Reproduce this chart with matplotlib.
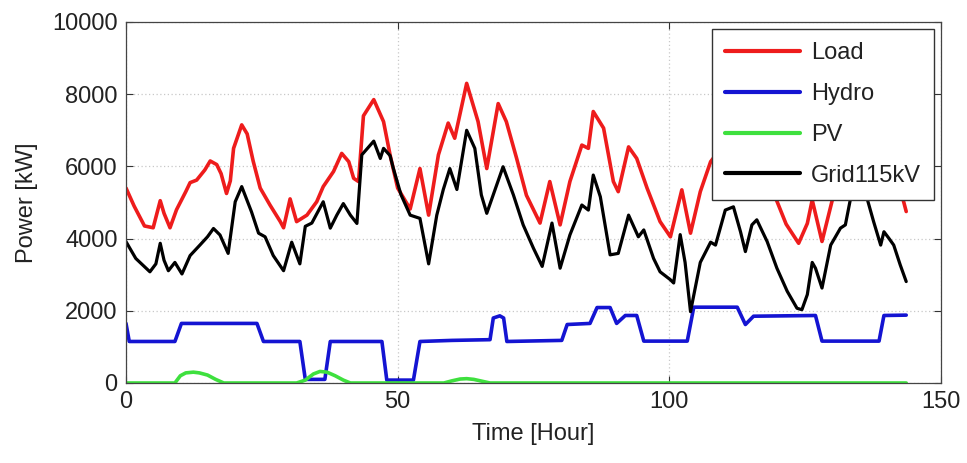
import matplotlib
matplotlib.use("Agg")
import matplotlib.pyplot as plt

plt.rcParams['font.family'] = ['Liberation Sans', 'DejaVu Sans']

load_hours = [0, 1.5, 3.4, 5.0, 6.3, 7.0, 8.1, 9.3, 11.0, 11.8, 13.0, 14.5, 15.5, 16.7, 17.5, 18.5, 19.2, 19.8,
              21.3, 22.3, 23.4, 24.7, 26.5, 28.4, 29.0, 30.2, 31.4, 33.3, 35.1, 36.3, 38.2, 39.7, 41.0, 41.9,
              42.8, 43.7, 45.6, 47.4, 48.6, 50.0, 52.3, 54.1, 55.7, 57.5, 59.3, 60.5, 62.7, 64.8, 66.4, 68.5,
              70.0, 71.9, 73.7, 76.2, 78.0, 79.9, 81.7, 83.9, 85.1, 86.0, 87.9, 89.7, 90.6, 92.5, 94.0, 95.9,
              98.3, 100.2, 102.3, 103.9, 105.7, 107.6, 109.5, 112.0, 115.0, 118.0, 119.5, 121.5, 123.8, 125.4,
              126.3, 128.1, 130.0, 132.0, 134.0, 136.0, 138.5, 141.0, 142.8, 143.6]
load_kw = [5400, 4900, 4350, 4300, 5050, 4700, 4300, 4800, 5300, 5550, 5620, 5900, 6150, 6050, 5800, 5250, 5600, 6500,
           7150, 6900, 6150, 5400, 4930, 4470, 4300, 5100, 4470, 4650, 5020, 5440, 5860, 6360, 6130, 5670,
           5580, 7400, 7850, 7240, 6320, 5400, 4820, 5940, 4650, 6320, 7200, 6780, 8300, 7240, 5940, 7740,
           7240, 6220, 5200, 4430, 5580, 4380, 5580, 6590, 6500, 7520, 7060, 5580, 5300, 6540, 6220, 5400,
           4470, 4050, 5350, 4150, 5300, 6130, 6500, 6200, 5900, 5600, 5150, 4400, 3870, 4420,
           5070, 3920, 5070, 6000, 6600, 6300, 5900, 5500, 5210, 4750]

hydro_hours = [0, 0.6, 9.0, 10.2, 24.1, 25.3, 32.0, 33.0, 36.6, 37.6, 47.1, 48.0, 52.9, 54.1, 60.0, 67.0, 67.6,
               68.8, 69.5, 70.1, 80.2, 81.2, 85.4, 86.7, 89.1, 90.3, 91.9, 94.0, 95.3, 103.3, 104.5, 112.5,
               114.0, 115.5, 126.9, 128.1, 138.6, 139.5, 143.6]
hydro_kw = [1650, 1150, 1150, 1650, 1650, 1150, 1150, 100, 100, 1150, 1150, 80, 80, 1150, 1180, 1200, 1800,
            1860, 1800, 1150, 1180, 1620, 1650, 2090, 2090, 1650, 1870, 1870, 1160, 1160, 2100, 2100,
            1620, 1850, 1870, 1160, 1160, 1870, 1880]

pv_hours = [0, 9.0, 10.0, 11.0, 12.4, 13.5, 15.0, 16.5, 18.0, 31.4, 33.0, 34.5, 35.7, 37.0, 38.5, 40.0, 41.3,
            58.5, 60.0, 61.5, 62.7, 64.0, 65.5, 67.0, 143.6]
pv_kw = [0, 0, 200, 280, 300, 280, 220, 100, 0, 0, 80, 250, 320, 300, 200, 80, 0,
         0, 60, 110, 120, 100, 50, 0, 0]

grid_hours = [0, 1.8, 4.4, 5.5, 6.3, 7.0, 7.8, 9.0, 10.3, 11.8, 13.6, 15.0, 16.1, 17.3, 18.8, 20.1, 21.3, 23.1,
              24.4, 25.6, 27.1, 29.0, 30.5, 32.0, 33.0, 34.2, 36.3, 37.6, 38.8, 40.0, 41.3, 42.5, 43.4, 45.6,
              46.8, 47.4, 48.6, 49.2, 50.6, 52.3, 54.1, 55.7, 57.2, 58.4, 59.6, 60.9, 62.7, 64.2, 65.4, 66.4,
              69.4, 71.3, 73.1, 75.0, 76.6, 78.4, 79.9, 81.7, 83.9, 85.1, 86.0, 87.3, 89.1, 90.6, 92.5, 94.3,
              95.3, 97.1, 98.3, 100.2, 100.8, 102.0, 102.9, 103.9, 105.7, 107.6, 108.5, 110.3, 111.8, 113.1,
              114.0, 115.2, 116.1, 118.0, 119.8, 121.7, 123.5, 124.4, 125.4, 126.3, 126.9, 128.1, 129.7, 131.5,
              132.4, 133.6, 134.5, 135.3, 136.4, 137.6, 138.9, 139.5, 140.4, 141.3, 142.5, 143.6]
grid_kw = [3915, 3450, 3080, 3300, 3870, 3400, 3110, 3340, 3020, 3530, 3820, 4050, 4280, 4100, 3590, 5020, 5440, 4740,
           4150, 4050, 3530, 3110, 3900, 3300, 4340, 4430, 5020, 4290, 4650, 4970, 4650, 4420, 6320, 6700,
           6220, 6500, 6300, 5950, 5220, 4650, 4560, 3300, 4650, 5360, 5940, 5360, 7000, 6500, 5210, 4700,
           5990, 5210, 4380, 3730, 3230, 4430, 3180, 4100, 4930, 4790, 5760, 5160, 3550, 3590, 4650, 4050,
           4240, 3450, 3080, 2860, 2770, 4110, 3340, 1976, 3340, 3900, 3820, 4790, 4880, 4190,
           3640, 4380, 4520, 3920, 3180, 2540, 2070, 2030, 2450, 3340, 3180, 2630, 3820, 4290,
           4380, 5300, 6000, 5500, 5110, 4470, 3820, 4190, 4010, 3820, 3270, 2810]

series_names = ["Load", "Hydro", "PV", "Grid115kV"]
x_ticks = [0, 50, 100, 150]
y_ticks = [0, 2000, 4000, 6000, 8000, 10000]

fig = plt.figure(figsize=(9.67, 4.63), dpi=100)
ax = fig.add_axes([0.1303, 0.1728, 0.8428, 0.7797])

kw = dict(solid_joinstyle='round', solid_capstyle='round')
ax.plot(load_hours, load_kw, color='#ee1c1c', lw=2.6, label=series_names[0], **kw)
ax.plot(hydro_hours, hydro_kw, color='#1414d2', lw=2.6, label=series_names[1], **kw)
ax.plot(pv_hours, pv_kw, color='#3ee03e', lw=2.6, label=series_names[2], **kw)
ax.plot(grid_hours, grid_kw, color='black', lw=2.3, label=series_names[3], **kw)

ax.set_xlim(0, 150)
ax.set_ylim(0, 10000)
ax.set_xticks(x_ticks)
ax.set_yticks(y_ticks)
ax.grid(True, color='#c8c8c8', linestyle=(0, (1, 2)), lw=0.9)
ax.tick_params(direction='in', length=5, width=0.8, labelsize=17, top=True, right=True, pad=6,
               colors='#333333', labelcolor='#222222')
for s in ax.spines.values():
    s.set_color('#444444')
    s.set_linewidth(0.9)

ax.set_xlabel("Time [Hour]", fontsize=17, color='#222222', labelpad=7)
ax.set_ylabel("Power [kW]", fontsize=17, color='#222222', labelpad=10)

leg = ax.legend(loc='upper right', fontsize=17, frameon=True, fancybox=False, handlelength=3.2,
                borderpad=0.55, labelspacing=0.8, handletextpad=0.45, borderaxespad=0.3,
                framealpha=1.0)
leg.get_frame().set_edgecolor('#333333')
leg.get_frame().set_linewidth(1.0)
for line in leg.get_lines():
    line.set_linewidth(3.0)
for t in leg.get_texts():
    t.set_color('#222222')

fig.savefig("out.png", dpi=100)
